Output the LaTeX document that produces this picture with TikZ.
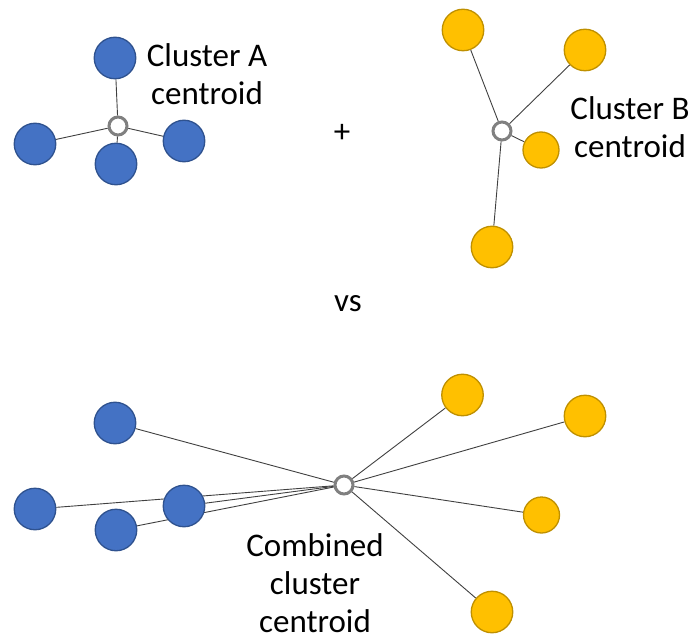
\documentclass[tikz,border=0pt]{standalone}
\usepackage{fontspec}
\setmainfont{Carlito}
\usetikzlibrary{backgrounds}
\definecolor{bluefill}{RGB}{68,114,196}
\definecolor{blueedge}{RGB}{47,82,143}
\definecolor{goldfill}{RGB}{255,192,0}
\definecolor{goldedge}{RGB}{191,144,0}
\definecolor{ringgray}{RGB}{128,128,128}
\definecolor{linkgray}{RGB}{64,64,64}

\begin{document}
\begin{tikzpicture}[x=1pt,y=-1pt,
  bluept/.style={circle, fill=bluefill, draw=blueedge, line width=1.3pt, minimum size=41.5pt, inner sep=0pt},
  goldpt/.style={circle, fill=goldfill, draw=goldedge, line width=1.3pt, minimum size=41.5pt, inner sep=0pt},
  smallgold/.style={goldpt, minimum size=36pt},
  centroid/.style={circle, fill=white, draw=ringgray, line width=3pt, minimum size=18pt, inner sep=0pt},
  link/.style={draw=linkgray, line width=0.9pt},
  caption/.style={font=\fontsize{33}{38}\selectfont, align=center, inner sep=0pt}]

\useasboundingbox (0,0) rectangle (693,636);

% Cluster A
\node[bluept] (a1) at (115,58) {};
\node[bluept] (a2) at (35,144) {};
\node[bluept] (a3) at (116,164) {};
\node[bluept] (a4) at (184,141) {};
\node[centroid] (ca) at (118,126) {};
\node[caption] (la) at (207,74) {Cluster A\\centroid};

% Cluster B
\node[goldpt] (b1) at (463,30) {};
\node[goldpt] (b2) at (585,50) {};
\node[smallgold] (b3) at (541,150) {};
\node[goldpt] (b4) at (492,247) {};
\node[centroid] (cb) at (502,131) {};
\node[caption] (lb) at (630,127) {Cluster B\\centroid};

\node[caption] (plus) at (342,133) {+};
\node[caption] (vs) at (348,304) {vs};

% Merged clusters
\node[bluept] (m1) at (115,423) {};
\node[bluept] (m2) at (35,509) {};
\node[bluept] (m3) at (116,530) {};
\node[bluept] (m4) at (184,506) {};
\node[goldpt] (n1) at (462.5,395) {};
\node[goldpt] (n2) at (585,416) {};
\node[smallgold] (n3) at (541.5,515) {};
\node[goldpt] (n4) at (492,612) {};
\node[centroid] (cm) at (344,485) {};
\node[caption] (lm) at (315,583) {Combined\\cluster\\centroid};

\begin{scope}[on background layer]
  \foreach \p in {a1,a2,a3,a4} \draw[link] (ca) -- (\p);
  \foreach \p in {b1,b2,b3,b4} \draw[link] (cb) -- (\p);
  \foreach \p in {m1,m2,m3,m4,n1,n2,n3,n4} \draw[link] (cm) -- (\p);
\end{scope}
\end{tikzpicture}
\end{document}
